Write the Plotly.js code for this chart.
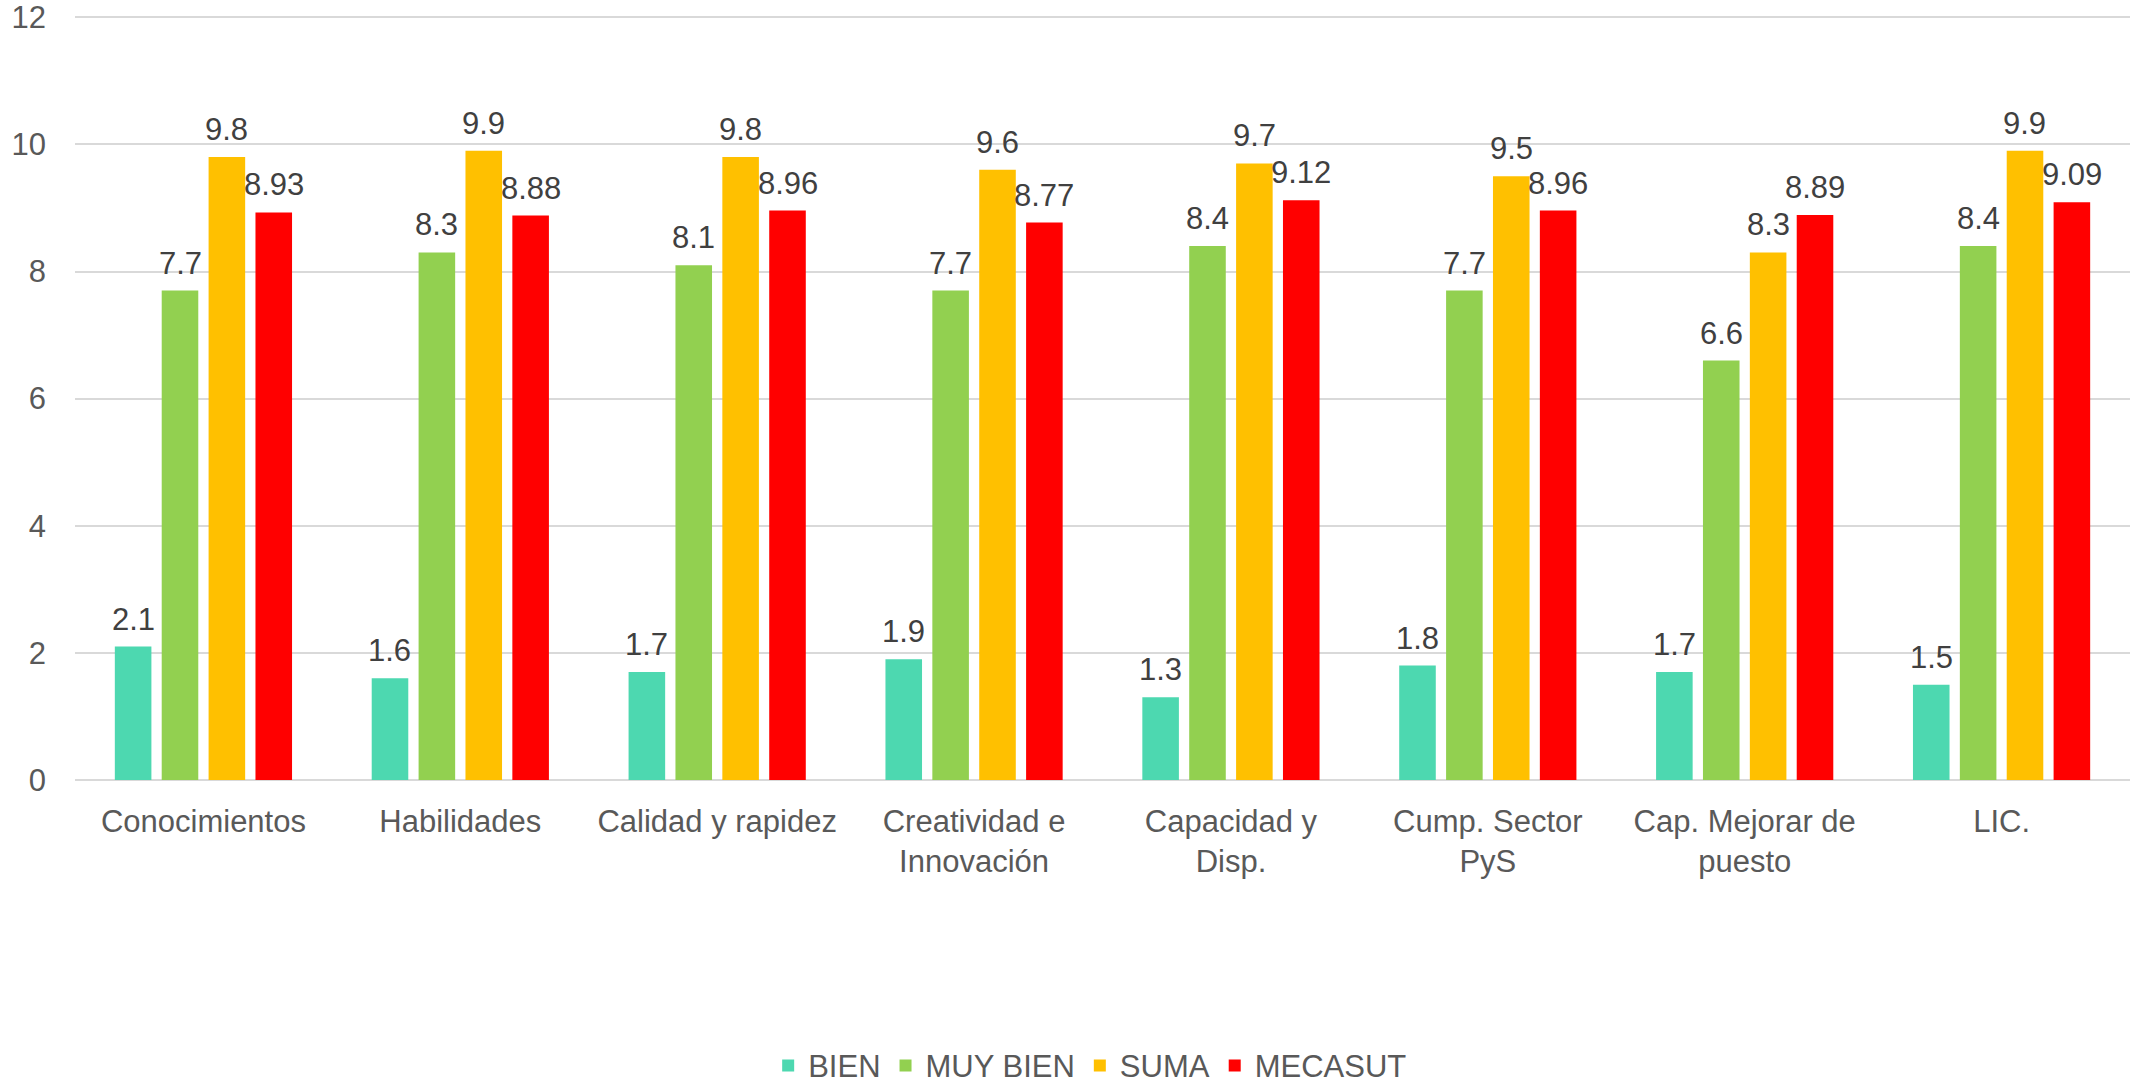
<!DOCTYPE html>
<html>
<head>
<meta charset="utf-8">
<script src="https://cdn.plot.ly/plotly-3.0.1.min.js"></script>
<style>html,body{margin:0;padding:0;background:#fff;}#chart{width:2134px;height:1087px;}</style>
</head>
<body>
<div id="chart"></div>
<script>
const categories = ["Conocimientos", "Habilidades", "Calidad y rapidez", "Creatividad e<br>Innovación", "Capacidad y<br>Disp.", "Cump. Sector<br>PyS", "Cap. Mejorar de<br>puesto", "LIC."];
const bien = [2.1, 1.6, 1.7, 1.9, 1.3, 1.8, 1.7, 1.5];
const muyBien = [7.7, 8.3, 8.1, 7.7, 8.4, 7.7, 6.6, 8.4];
const suma = [9.8, 9.9, 9.8, 9.6, 9.7, 9.5, 8.3, 9.9];
const mecasut = [8.93, 8.88, 8.96, 8.77, 9.12, 8.96, 8.89, 9.09];
const seriesNames = ["BIEN", "MUY BIEN", "SUMA", "MECASUT"];
const seriesColors = ["#4dd8b0", "#92d050", "#ffc000", "#ff0000"];
const yTicks = [0, 2, 4, 6, 8, 10, 12];

const FONT = "Liberation Sans, Arial, sans-serif";
const W = 2134, H = 1087;
const M = {l: 75, r: 4, t: 16, b: 307, autoexpand: false};
const BARGAP = 0.27, BARGROUPGAP = 0.22;
const allSeries = [bien, muyBien, suma, mecasut];

const traces = allSeries.map((vals, i) => ({
  type: "bar",
  name: seriesNames[i],
  x: categories,
  y: vals,
  marker: {color: seriesColors[i]},
  hoverinfo: "x+y+name"
}));

// data labels as annotations centred over each bar of the group
const catW = (W - M.l - M.r) / categories.length;
const slot = catW * (1 - BARGAP) / allSeries.length;
const annotations = [];
allSeries.forEach((vals, i) => {
  vals.forEach((v, j) => {
    annotations.push({
      x: categories[j], y: v, xref: "x", yref: "y",
      text: String(v), showarrow: false,
      xanchor: "center", yanchor: "bottom",
      xshift: (i - (allSeries.length - 1) / 2) * slot,
      yshift: 8,
      font: {family: FONT, size: 31, color: "#404040"}
    });
  });
});

const layout = {
  width: W,
  height: H,
  paper_bgcolor: "#ffffff",
  plot_bgcolor: "#ffffff",
  margin: M,
  barmode: "group",
  bargap: BARGAP,
  bargroupgap: BARGROUPGAP,
  font: {family: FONT, size: 31, color: "#595959"},
  annotations: annotations,
  xaxis: {
    type: "category",
    automargin: false,
    tickfont: {family: FONT, size: 31, color: "#595959"},
    showgrid: false,
    showline: false,
    zeroline: false,
    ticks: "",
    ticklabelstandoff: 20
  },
  yaxis: {
    range: [0, 12.02],
    automargin: false,
    tickvals: yTicks,
    ticktext: yTicks.map(String),
    tickfont: {family: FONT, size: 31, color: "#595959"},
    showgrid: true,
    gridcolor: "#d9d9d9",
    gridwidth: 2,
    zeroline: true,
    zerolinecolor: "#d9d9d9",
    zerolinewidth: 2,
    showline: false,
    ticks: "",
    ticklabelstandoff: 28
  },
  showlegend: true,
  legend: {
    orientation: "h",
    x: 0.494,
    xanchor: "center",
    y: -0.374,
    yanchor: "middle",
    font: {family: FONT, size: 31, color: "#595959"},
    itemwidth: 30,
    traceorder: "normal"
  }
};

Plotly.newPlot("chart", traces, layout, {displayModeBar: false, staticPlot: true});
</script>
</body>
</html>
